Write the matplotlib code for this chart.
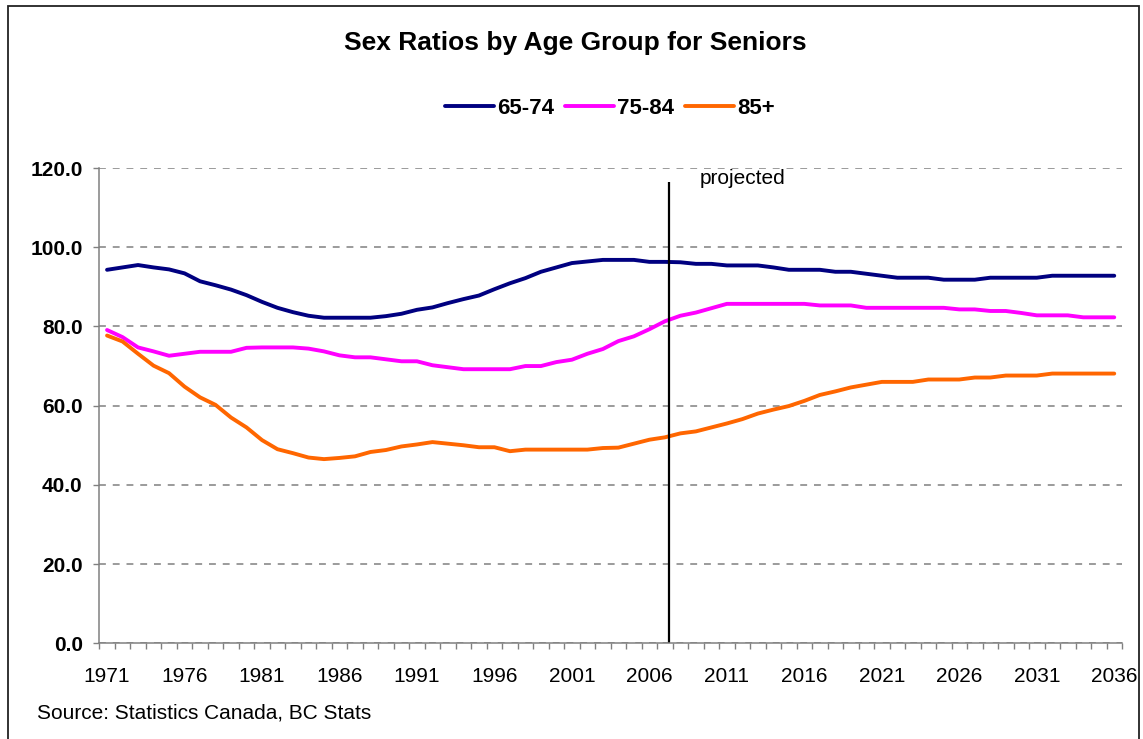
import matplotlib
matplotlib.use("Agg")
import matplotlib.pyplot as plt
from matplotlib.patches import Rectangle

plt.rcParams['font.family'] = ['Liberation Sans', 'DejaVu Sans']

years = list(range(1971, 2037))

ratio_65_74 = [94.3, 94.9, 95.5, 94.9, 94.4, 93.4, 91.4, 90.4, 89.3, 87.9,
               86.2, 84.7, 83.6, 82.7, 82.2, 82.2, 82.2, 82.2, 82.6, 83.2,
               84.2, 84.8, 85.9, 86.9, 87.8, 89.4, 90.9, 92.2, 93.8, 94.9,
               96.0, 96.4, 96.8, 96.8, 96.8, 96.3, 96.3, 96.2, 95.8, 95.8,
               95.4, 95.4, 95.4, 94.9, 94.3, 94.3, 94.3, 93.8, 93.8, 93.3,
               92.8, 92.3, 92.3, 92.3, 91.8, 91.8, 91.8, 92.3, 92.3, 92.3,
               92.3, 92.8, 92.8, 92.8, 92.8, 92.8]

ratio_75_84 = [79.1, 77.3, 74.7, 73.7, 72.6, 73.1, 73.6, 73.6, 73.6, 74.6,
               74.7, 74.7, 74.7, 74.4, 73.7, 72.7, 72.2, 72.2, 71.7, 71.2,
               71.2, 70.2, 69.7, 69.2, 69.2, 69.2, 69.2, 70.0, 70.0, 71.0,
               71.6, 73.1, 74.3, 76.3, 77.5, 79.3, 81.3, 82.7, 83.5, 84.6,
               85.7, 85.7, 85.7, 85.7, 85.7, 85.7, 85.3, 85.3, 85.3, 84.7,
               84.7, 84.7, 84.7, 84.7, 84.7, 84.3, 84.3, 83.9, 83.9, 83.4,
               82.8, 82.8, 82.8, 82.3, 82.3, 82.3]

ratio_85_plus = [77.7, 76.2, 73.1, 70.1, 68.2, 64.8, 62.1, 60.2, 57.0, 54.5,
                 51.3, 49.0, 48.0, 46.9, 46.5, 46.8, 47.2, 48.3, 48.8, 49.7,
                 50.2, 50.8, 50.4, 50.0, 49.5, 49.5, 48.5, 48.9, 48.9, 48.9,
                 48.9, 48.9, 49.3, 49.4, 50.4, 51.4, 52.0, 53.0, 53.5, 54.5,
                 55.5, 56.6, 58.0, 59.0, 59.9, 61.2, 62.7, 63.6, 64.6, 65.3,
                 66.0, 66.0, 66.0, 66.6, 66.6, 66.6, 67.1, 67.1, 67.6, 67.6,
                 67.6, 68.1, 68.1, 68.1, 68.1, 68.1]

series_labels = ['65-74', '75-84', '85+']
series_colors = ['#000080', '#FF00FF', '#FF6600']
tick_years = years[::5]
y_ticks = [0, 20, 40, 60, 80, 100, 120]
projection_year = 2007.25
projection_top = 116.5

W, H = 1143, 739
fig = plt.figure(figsize=(W / 100, H / 100), dpi=100)
ax = fig.add_axes([99.3 / W, 1 - 643.3 / H, (1122 - 99.3) / W, (643.3 - 168) / H])

for vals, lab, col in zip([ratio_65_74, ratio_75_84, ratio_85_plus], series_labels, series_colors):
    ax.plot(years, vals, color=col, lw=2.8, label=lab, solid_capstyle='round', solid_joinstyle='round')

ax.vlines(projection_year, 0, projection_top, color='black', lw=1.6)
ax.text(projection_year + 2.0, 117.3, 'projected', fontsize=15, va='center', ha='left')

ax.set_xlim(years[0] - 0.5, years[-1] + 0.5)
ax.set_ylim(0, 120)
ax.set_yticks(y_ticks)
ax.set_yticklabels([f'{v:.1f}' for v in y_ticks], fontweight='bold', fontsize=15)
ax.set_xticks(tick_years)
ax.set_xticklabels([str(y) for y in tick_years], fontsize=15)
ax.set_xticks([y - 0.5 for y in years] + [years[-1] + 0.5], minor=True)

ax.tick_params(axis='x', which='major', length=0, pad=17)
ax.tick_params(axis='x', which='minor', length=4, color='#808080', width=1)
ax.tick_params(axis='y', which='major', length=4, color='#808080', width=1, pad=8)

ax.grid(axis='y', color='#808080', linestyle=(0, (4.5, 4.5)), lw=1.1)
ax.set_axisbelow(True)
for s in ['top', 'right']:
    ax.spines[s].set_visible(False)
for s in ['left', 'bottom']:
    ax.spines[s].set_color('#808080')
    ax.spines[s].set_linewidth(1.1)

fig.text(575 / W, 1 - 43 / H, 'Sex Ratios by Age Group for Seniors', fontsize=19,
         fontweight='bold', ha='center', va='center')

leg = fig.legend(loc='center', bbox_to_anchor=(610 / W, 1 - 108 / H), ncol=3, frameon=False,
                 handlelength=2.2, handletextpad=0.15, columnspacing=0.5,
                 prop={'weight': 'bold', 'size': 16})

fig.text(37 / W, 1 - 713 / H, 'Source: Statistics Canada, BC Stats', fontsize=15,
         ha='left', va='center')

fig.patches.append(Rectangle((8 / W, -0.05), (1139 - 8) / W, 1 - 6 / H + 0.05,
                             transform=fig.transFigure, fill=False, edgecolor='#222222', lw=1.3))

fig.savefig('out.png', dpi=100)
